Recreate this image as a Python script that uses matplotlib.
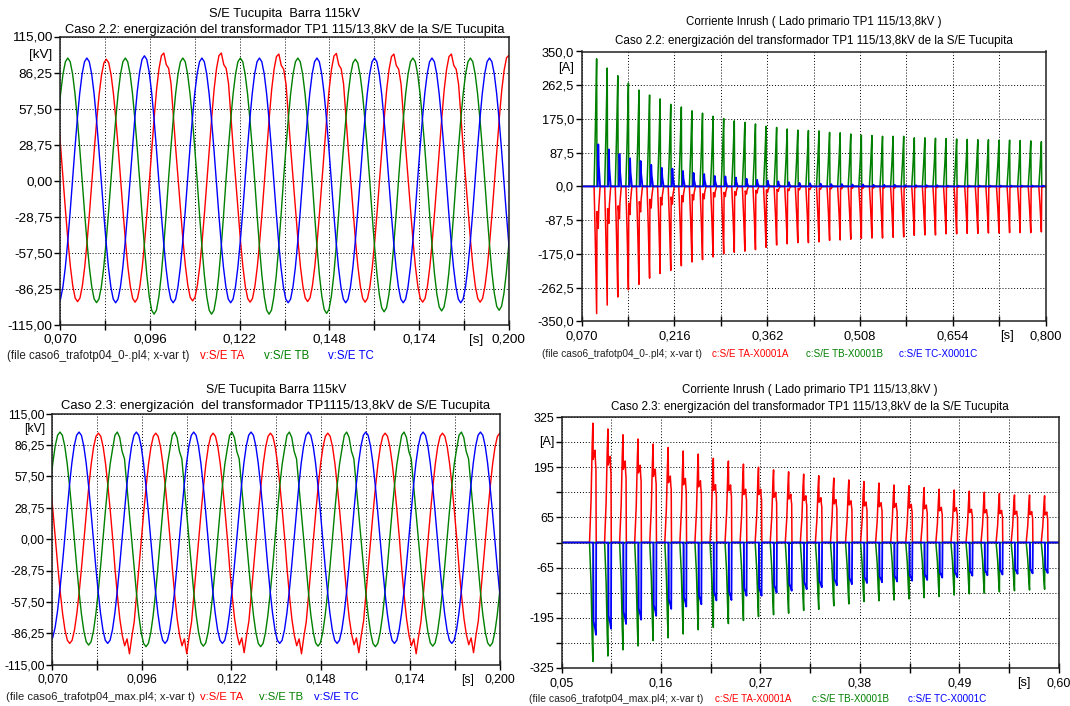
import numpy as np
import matplotlib
matplotlib.use("Agg")
import matplotlib.pyplot as plt
from matplotlib.ticker import FixedLocator, FuncFormatter, NullFormatter

plt.rcParams['font.family'] = ['Liberation Sans', 'DejaVu Sans']

W, H = 1070, 706
RED, GREEN, BLUE = '#ff0000', '#008000', '#0000ff'
FREQ = 60.0

# ---------------- bus voltage at S/E Tucupita 115 kV (kV) ----------------
# crest time of the first listed half cycle of each phase
V_START_TA = 0.0667
V_START_TB = 0.0722
V_START_TC = 0.0694

# signed crest of each consecutive half cycle, case 2.2
V22_TA = [97, -96.6, 96.9, -97, 101.8, -96, 101.8, -97, 101, -96.5, 101.5, -97, 101, -97, 101, -97, 100]
V22_TB = [97.8, -97.4, 97.8, -106.6, 97.8, -106.6, 97.8, -106.6, 97.8, -106, 96.9, -104.7, 97.8, -104, 97.8, -103.5]
V22_TC = [-97.5, 97.8, -97.5, 99.6, -97.5, 97.8, -97.5, 97.8, -97.5, 97.8, -97.5, 97.8, -97.5, 97.8, -97.5, 97.8, -97.5]

# signed crest of each consecutive half cycle, case 2.3
V23_TA = [97, -95.5, 97, -105, 97, -105, 97, -104, 97, -105, 97, -104, 97, -105, 97, -104, 97]
V23_TB = [98, -97, 98, -98.5, 98, -98, 98, -98.5, 98, -98, 98, -98.5, 98, -98, 98, -98]
V23_TC = [-93, 98, -95.5, 98, -95.5, 98, -95.5, 98, -95.5, 98, -95.5, 98, -95.5, 98, -95.5, 98, -95.5]

# sampled half-cycle wave shapes (12 samples per half cycle, crest = 1)
HALF_SHAPE = [0.00, 0.26, 0.50, 0.71, 0.87, 0.97, 1.00, 0.97, 0.87, 0.71, 0.50, 0.26]
SHOULDER_SHAPE = [0.00, 0.25, 0.50, 0.72, 0.88, 0.98, 1.00, 0.91, 0.88, 0.76, 0.50, 0.24]
SPIKY_SHAPE = [0.00, 0.27, 0.50, 0.70, 0.84, 0.93, 0.87, 1.00, 0.85, 0.72, 0.48, 0.25]
KINK_SHAPE = [0.00, 0.26, 0.50, 0.70, 0.84, 0.97, 1.00, 0.95, 0.82, 0.75, 0.50, 0.26]
ONSET = 0.088  # transformer energization

# ---------------- inrush current, primary side TP1 (A) ----------------
I22_T0 = 0.0935   # first current pulse, case 2.2
I22_TA = [-330, -308, -287, -268, -254, -238, -226, -218, -206, -196, -190, -183, -175, -171, -168,
          -164, -158, -152, -149, -146, -146, -144, -140, -139, -137, -135, -134, -134, -132, -131,
          -127, -126, -126, -123, -123, -122, -122, -121, -121, -120, -120, -120, -118]
I22_TB = [331, 307, 287, 268, 250, 237, 227, 213, 206, 196, 190, 182, 176, 170, 166, 162, 156, 153,
          149, 146, 145, 144, 140, 139, 136, 133, 132, 130, 130, 130, 126, 126, 125, 124, 123, 122,
          121, 121, 120, 120, 119, 118, 116]
I22_TC = [109, 96, 84, 73, 66, 56, 48, 46, 40, 35, 32, 27, 26, 23, 20, 17, 15, 13, 11, 9, 8, 7, 6, 6,
          5, 5, 4, 4, 4, 3, 3, 3, 3, 2, 2, 2, 2, 2, 2, 2, 2, 2, 2]

I23_T0 = 0.0845   # first current pulse, case 2.3
I23_TA = [309, 294, 279, 268, 255, 246, 237, 229, 218, 211, 203, 195, 188, 183, 177, 173, 167, 162,
          158, 154, 149, 147, 142, 138, 136, 133, 130, 127, 123, 123, 121]
I23_TB = [-308, -294, -278, -268, -254, -247, -237, -226, -220, -210, -202, -192, -187, -183, -176,
          -173, -164, -159, -153, -151, -149, -146, -143, -140, -136, -133, -131, -128, -125, -123, -121]
I23_TC = [-239, -223, -211, -200, -190, -172, -166, -160, -150, -149, -138, -138, -130, -125, -121,
          -116, -111, -108, -105, -103, -101, -99, -97, -91, -90, -86, -85, -83, -81, -80, -79]

# pulse shapes: offsets in ms from the pulse instant and weights of the own crest / the phase C crest
P22_OFF = [-4.0, -2.0, 0.0, 0.6, 1.8, 2.6, 3.4, 5.5]
P22_B = [0, 0.45, 1.0, 0, 0, 0, 0, 0]
P22_C = [0, 0, 0, 0, 0, 1.0, 0.5, 0]
P22_A_OWN = [0, 0.45, 1.0, 0, 0, 0, 0, 0]
P22_A_C = [0, 0, 0, -0.6, -0.9, -1.0, -0.5, 0]

P23_OFF = [-3.7, -2.0, -0.8, 0.0, 0.4, 0.8, 1.6, 2.4, 3.0, 3.4, 3.7]
P23_B = [0, 0.35, 0.8, 1.0, 0, 0, 0, 0, 0, 0, 0]
P23_C = [0, 0, 0, 0, 0, 0.85, 0.9, 0.93, 0.97, 1.0, 0]
P23_A_OWN = [0, 0.35, 0.8, 1.0, 0, 0, 0, 0, 0, 0, 0]
P23_A_C = [0, 0, 0, 0, -0.9, -0.97, -0.93, -1.0, -0.85, -0.8, 0]


def voltage_wave(t_start, crests, pos_shape=HALF_SHAPE, neg_shape=HALF_SHAPE):
    half = 0.5 / FREQ
    t, v = [], []
    for i, c in enumerate(crests):
        tc = t_start + i * half
        shp = HALF_SHAPE
        if tc > ONSET:
            shp = pos_shape if c > 0 else neg_shape
        n = len(shp)
        for j, s in enumerate(shp):
            t.append(tc + (j / n - 0.5) * half)
            v.append(c * s)
    t.append(t_start + (len(crests) - 0.5) * half)
    v.append(0.0)
    return np.array(t), np.array(v)


def pulse_train(t0, own, other, offs, w_own, w_other, t_lo, t_hi):
    t, v = [t_lo], [0.0]
    for k, (a, b) in enumerate(zip(own, other)):
        tk = t0 + k / FREQ
        for o, wa, wb in zip(offs, w_own, w_other):
            t.append(tk + o * 1e-3)
            v.append(a * wa + b * wb)
    t.append(t_hi)
    v.append(0.0)
    return np.array(t), np.array(v)


def comma(fmt):
    return FuncFormatter(lambda x, p: (fmt % x).replace('.', ','))


def add_axes(l, t, r, b):
    return fig.add_axes([l / W, 1 - b / H, (r - l) / W, (b - t) / H])


def style(ax, xlim, ylim, xmaj, xmin, ymaj, ymin, xfmt, yfmt, s_at, s_dx, unit, unit_at, fs):
    ax.set_xlim(*xlim)
    ax.set_ylim(*ylim)
    ax.xaxis.set_major_locator(FixedLocator(xmaj))
    ax.xaxis.set_minor_locator(FixedLocator(xmin))
    ax.yaxis.set_major_locator(FixedLocator(ymaj))
    ax.yaxis.set_minor_locator(FixedLocator(ymin))
    ax.xaxis.set_major_formatter(comma(xfmt))
    ax.yaxis.set_major_formatter(comma(yfmt))
    ax.xaxis.set_minor_formatter(NullFormatter())
    ax.yaxis.set_minor_formatter(NullFormatter())
    ax.grid(which='both', color='black', linestyle=(0, (1, 2)), linewidth=0.7)
    ax.set_axisbelow(True)
    ax.tick_params(axis='x', which='both', direction='inout', length=7, width=1.0,
                   labelsize=fs, pad=3)
    ax.tick_params(axis='y', which='both', direction='out', length=4, width=1.0,
                   labelsize=fs, pad=1.5)
    for sp in ax.spines.values():
        sp.set_linewidth(1.1)
        sp.set_color('#202020')
    ax.annotate('[s]', xy=(s_at, 0), xycoords=ax.get_xaxis_transform(),
                xytext=(s_dx, -6.5), textcoords='offset points', ha='center', va='top', fontsize=fs)
    ax.annotate(unit, xy=(0, unit_at), xycoords=ax.get_yaxis_transform(),
                xytext=(-5.5, 0), textcoords='offset points', ha='right', va='center', fontsize=fs)


def titles(ax, l1, l2, y1, y2, fs1, fs2):
    cx = (ax.get_position().x0 + ax.get_position().x1) / 2
    fig.text(cx, 1 - y1 / H, l1, ha='center', va='center', fontsize=fs1)
    fig.text(cx, 1 - y2 / H, l2, ha='center', va='center', fontsize=fs2)


def footer(x_file, y, text, entries, fs_file, fs_entry):
    fig.text(x_file / W, 1 - y / H, text, ha='left', va='center', fontsize=fs_file, color='#222222')
    for x, lab, col in entries:
        fig.text(x / W, 1 - y / H, lab, ha='left', va='center', fontsize=fs_entry, color=col)


fig = plt.figure(figsize=(W / 100, H / 100), dpi=100, facecolor='white')

V_MAJ = [-115, -86.25, -57.5, -28.75, 0, 28.75, 57.5, 86.25, 115]
X_V_ALL = [0.070, 0.083, 0.096, 0.109, 0.122, 0.135, 0.148, 0.161, 0.174, 0.187, 0.200]
X_V_MAJ = X_V_ALL[::2]
X_V_MIN = X_V_ALL[1::2]

# ---------- case 2.2 voltage ----------
ax1 = add_axes(60.2, 36.5, 508.8, 324.7)
for start, crests, col, pos, neg in [
        (V_START_TA, V22_TA, RED, SHOULDER_SHAPE, HALF_SHAPE),
        (V_START_TB, V22_TB, GREEN, HALF_SHAPE, HALF_SHAPE),
        (V_START_TC, V22_TC, BLUE, HALF_SHAPE, HALF_SHAPE)]:
    t, v = voltage_wave(start, crests, pos, neg)
    ax1.plot(t, v, color=col, lw=1.0)
style(ax1, (0.070, 0.200), (-115, 115), X_V_MAJ, X_V_MIN, V_MAJ, [], '%.3f', '%.2f',
      0.187, 9, '[kV]', 100.625, 9.7)
titles(ax1, 'S/E Tucupita  Barra 115kV',
       'Caso 2.2: energización del transformador TP1 115/13,8kV de la S/E Tucupita',
       14.2, 30.4, 9.3, 9.3)
footer(6.8, 355.8, '(file caso6_trafotp04_0-.pl4; x-var t)',
       [(199.5, 'v:S/E TA', RED), (263.7, 'v:S/E TB', GREEN), (328, 'v:S/E TC', BLUE)], 8.3, 8.3)

# ---------- case 2.2 inrush current ----------
ax2 = add_axes(581.7, 51.5, 1045.5, 321.3)
lo, hi = 0.070, 0.800
zeros22 = [0] * len(I22_TB)
t, v = pulse_train(I22_T0, I22_TA, I22_TC, P22_OFF, P22_A_OWN, P22_A_C, lo, hi)
ax2.plot(t, v, color=RED, lw=1.1)
t, v = pulse_train(I22_T0, I22_TB, zeros22, P22_OFF, P22_B, P22_B, lo, hi)
ax2.plot(t, v, color=GREEN, lw=1.1)
t, v = pulse_train(I22_T0, zeros22, I22_TC, P22_OFF, P22_C, P22_C, lo, hi)
ax2.plot(t, v, color=BLUE, lw=1.3)
style(ax2, (lo, hi), (-350, 350), [0.070, 0.216, 0.362, 0.508, 0.654, 0.800],
      [0.143, 0.289, 0.435, 0.581, 0.727],
      [-350, -262.5, -175, -87.5, 0, 87.5, 175, 262.5, 350], [], '%.3f', '%.1f',
      0.727, 6, '[A]', 306.25, 9.3)
titles(ax2, 'Corriente Inrush ( Lado primario TP1 115/13,8kV )',
       'Caso 2.2: energización del transformador TP1 115/13,8kV de la S/E Tucupita',
       22.4, 40.6, 8.3, 8.4)
footer(542, 354, '(file caso6_trafotp04_0-.pl4; x-var t)',
       [(711.5, 'c:S/E TA-X0001A', RED), (805.5, 'c:S/E TB-X0001B', GREEN),
        (899, 'c:S/E TC-X0001C', BLUE)], 7.3, 7.1)

# ---------- case 2.3 voltage ----------
ax3 = add_axes(52.4, 413.5, 499.7, 664.7)
for start, crests, col, pos, neg in [
        (V_START_TA, V23_TA, RED, HALF_SHAPE, SPIKY_SHAPE),
        (V_START_TB, V23_TB, GREEN, KINK_SHAPE, HALF_SHAPE),
        (V_START_TC, V23_TC, BLUE, HALF_SHAPE, HALF_SHAPE)]:
    t, v = voltage_wave(start, crests, pos, neg)
    ax3.plot(t, v, color=col, lw=1.0)
style(ax3, (0.070, 0.200), (-115, 115), X_V_MAJ, X_V_MIN, V_MAJ, [], '%.3f', '%.2f',
      0.187, 9, '[kV]', 100.625, 8.8)
titles(ax3, 'S/E Tucupita Barra 115kV',
       'Caso 2.3: energización  del transformador TP1115/13,8kV de S/E Tucupita',
       390, 406.5, 8.8, 9.4)
footer(6, 696.8, '(file caso6_trafotp04_max.pl4; x-var t)',
       [(200, 'v:S/E TA', RED), (258.6, 'v:S/E TB', GREEN), (314.4, 'v:S/E TC', BLUE)], 8.1, 8.1)

# ---------- case 2.3 inrush current ----------
ax4 = add_axes(561.7, 417, 1058.6, 668)
lo, hi = 0.05, 0.60
zeros23 = [0] * len(I23_TA)
t, v = pulse_train(I23_T0, I23_TA, I23_TC, P23_OFF, P23_A_OWN, P23_A_C, lo, hi)
ax4.plot(t, v, color=RED, lw=1.1)
t, v = pulse_train(I23_T0, I23_TB, zeros23, P23_OFF, P23_B, P23_B, lo, hi)
ax4.plot(t, v, color=GREEN, lw=1.1)
t, v = pulse_train(I23_T0, zeros23, I23_TC, P23_OFF, P23_C, P23_C, lo, hi)
ax4.plot(t, v, color=BLUE, lw=1.3)
style(ax4, (lo, hi), (-325, 325), [0.05, 0.16, 0.27, 0.38, 0.49, 0.60],
      [0.105, 0.215, 0.325, 0.435, 0.545],
      [-325, -195, -65, 65, 195, 325], [-260, -130, 0, 130, 260], '%.2f', '%.0f',
      0.545, 11, '[A]', 260, 9.0)
titles(ax4, 'Corriente Inrush ( Lado primario TP1 115/13,8kV )',
       'Caso 2.3: energización del transformador TP1 115/13,8kV de la S/E Tucupita',
       390.3, 407.5, 8.3, 8.4)
footer(529, 698.5, '(file caso6_trafotp04_max.pl4; x-var t)',
       [(715, 'c:S/E TA-X0001A', RED), (811.7, 'c:S/E TB-X0001B', GREEN),
        (908, 'c:S/E TC-X0001C', BLUE)], 7.5, 7.1)

fig.savefig('out.png', dpi=100, facecolor='white')
